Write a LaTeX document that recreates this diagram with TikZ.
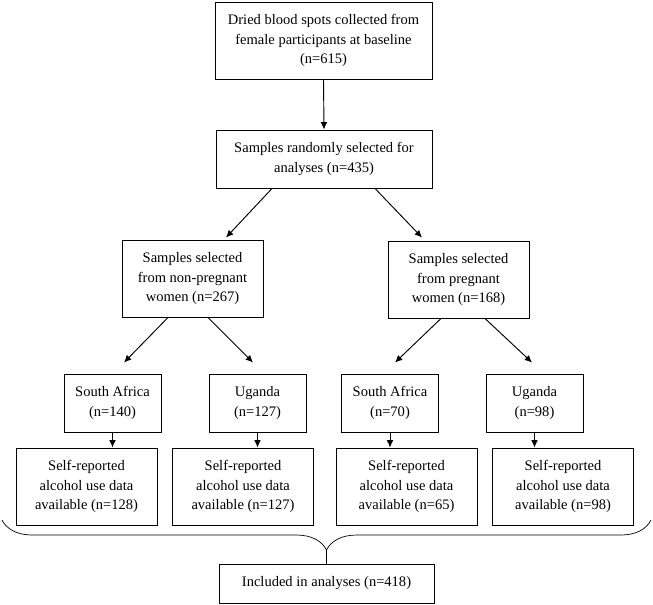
\documentclass[tikz,border=0pt]{standalone}
\usepackage{fontspec}
\setmainfont{Liberation Serif}
\usetikzlibrary{arrows.meta,calc,decorations.pathreplacing}

\begin{document}
\begin{tikzpicture}[x=0.03cm, y=-0.03cm, line width=0.8pt,
	box/.style={draw, align=center, inner sep=0pt, font=\fontsize{12.4}{17}\selectfont},
	widebox/.style={box, minimum width=6.51cm},
	midbox/.style={box, minimum width=4.23cm, minimum height=2.31cm},
	cntbox/.style={box, minimum width=2.91cm, minimum height=1.74cm},
	arr/.style={-{Latex[length=2.2mm,width=2mm]}}]
	\useasboundingbox (0,0) rectangle (653,604);
	\node[widebox, minimum height=2.31cm] (dbs) at (323.5,40.5) {Dried blood spots collected from\\female participants at baseline\\(n=615)};
	\node[widebox, minimum width=6.48cm, minimum height=1.74cm] (rand) at (324,159) {Samples randomly selected for\\analyses (n=435)};
	\node[midbox] (nonpreg) at (192.5,278.5) {Samples selected\\from non-pregnant\\women (n=267)};
	\node[midbox] (preg) at (458.5,279.5) {Samples selected\\from pregnant\\women (n=168)};
	% countries
	\node[cntbox] (saN) at (112.5,403) {South Africa\\(n=140)};
	\node[cntbox] (ugN) at (257.5,403) {Uganda\\(n=127)};
	\node[cntbox] (saP) at (390,403) {South Africa\\(n=70)};
	\node[cntbox] (ugP) at (534.5,403) {Uganda\\(n=98)};
	% self-reported alcohol use
	\node[midbox] (repSaN) at (86.5,486.5) {Self-reported\\alcohol use data\\available (n=128)};
	\node[midbox] (repUgN) at (243,486.5) {Self-reported\\alcohol use data\\available (n=127)};
	\node[midbox] (repSaP) at (406.5,486.5) {Self-reported\\alcohol use data\\available (n=65)};
	\node[midbox] (repUgP) at (563,486.5) {Self-reported\\alcohol use data\\available (n=98)};
	\node[widebox, minimum width=6.45cm, minimum height=1.17cm] (incl) at (326.5,583.5) {Included in analyses (n=418)};

	\draw[arr] (dbs.south) -- (rand.north);
	\draw[arr] ($(rand.south)+(-52,0)$) -- ($(nonpreg.north)+(33.5,-2)$);
	\draw[arr] ($(rand.south)+(51,0)$) -- ($(preg.north)+(-36.5,-3)$);
	\draw[arr] ($(nonpreg.south)+(-24.5,0)$) -- ($(saN.north)+(11.5,-11)$);
	\draw[arr] ($(nonpreg.south)+(15.5,0)$) -- ($(ugN.north)+(-4.5,-11)$);
	\draw[arr] ($(preg.south)+(-17.5,0)$) -- ($(saP.north)+(5,-11)$);
	\draw[arr] ($(preg.south)+(26.5,0)$) -- ($(ugP.north)+(-2.5,-11)$);
	\foreach \a/\b in {saN/repSaN, ugN/repUgN, saP/repSaP, ugP/repUgP}
		\draw[arr] (\a.south) -- (\a.south |- \b.north);

	% brace
	\coordinate (bl) at (2,520);
	\coordinate (br) at (651,520);
	\coordinate (tip) at ($(bl)!.5!(br)+(0,30)$);
	\draw[line width=0.6pt, decorate, decoration={brace, mirror, amplitude=0.9cm}] (bl) -- (br);
	\draw[line width=0.6pt] (tip) -- (incl.north);
\end{tikzpicture}
\end{document}
